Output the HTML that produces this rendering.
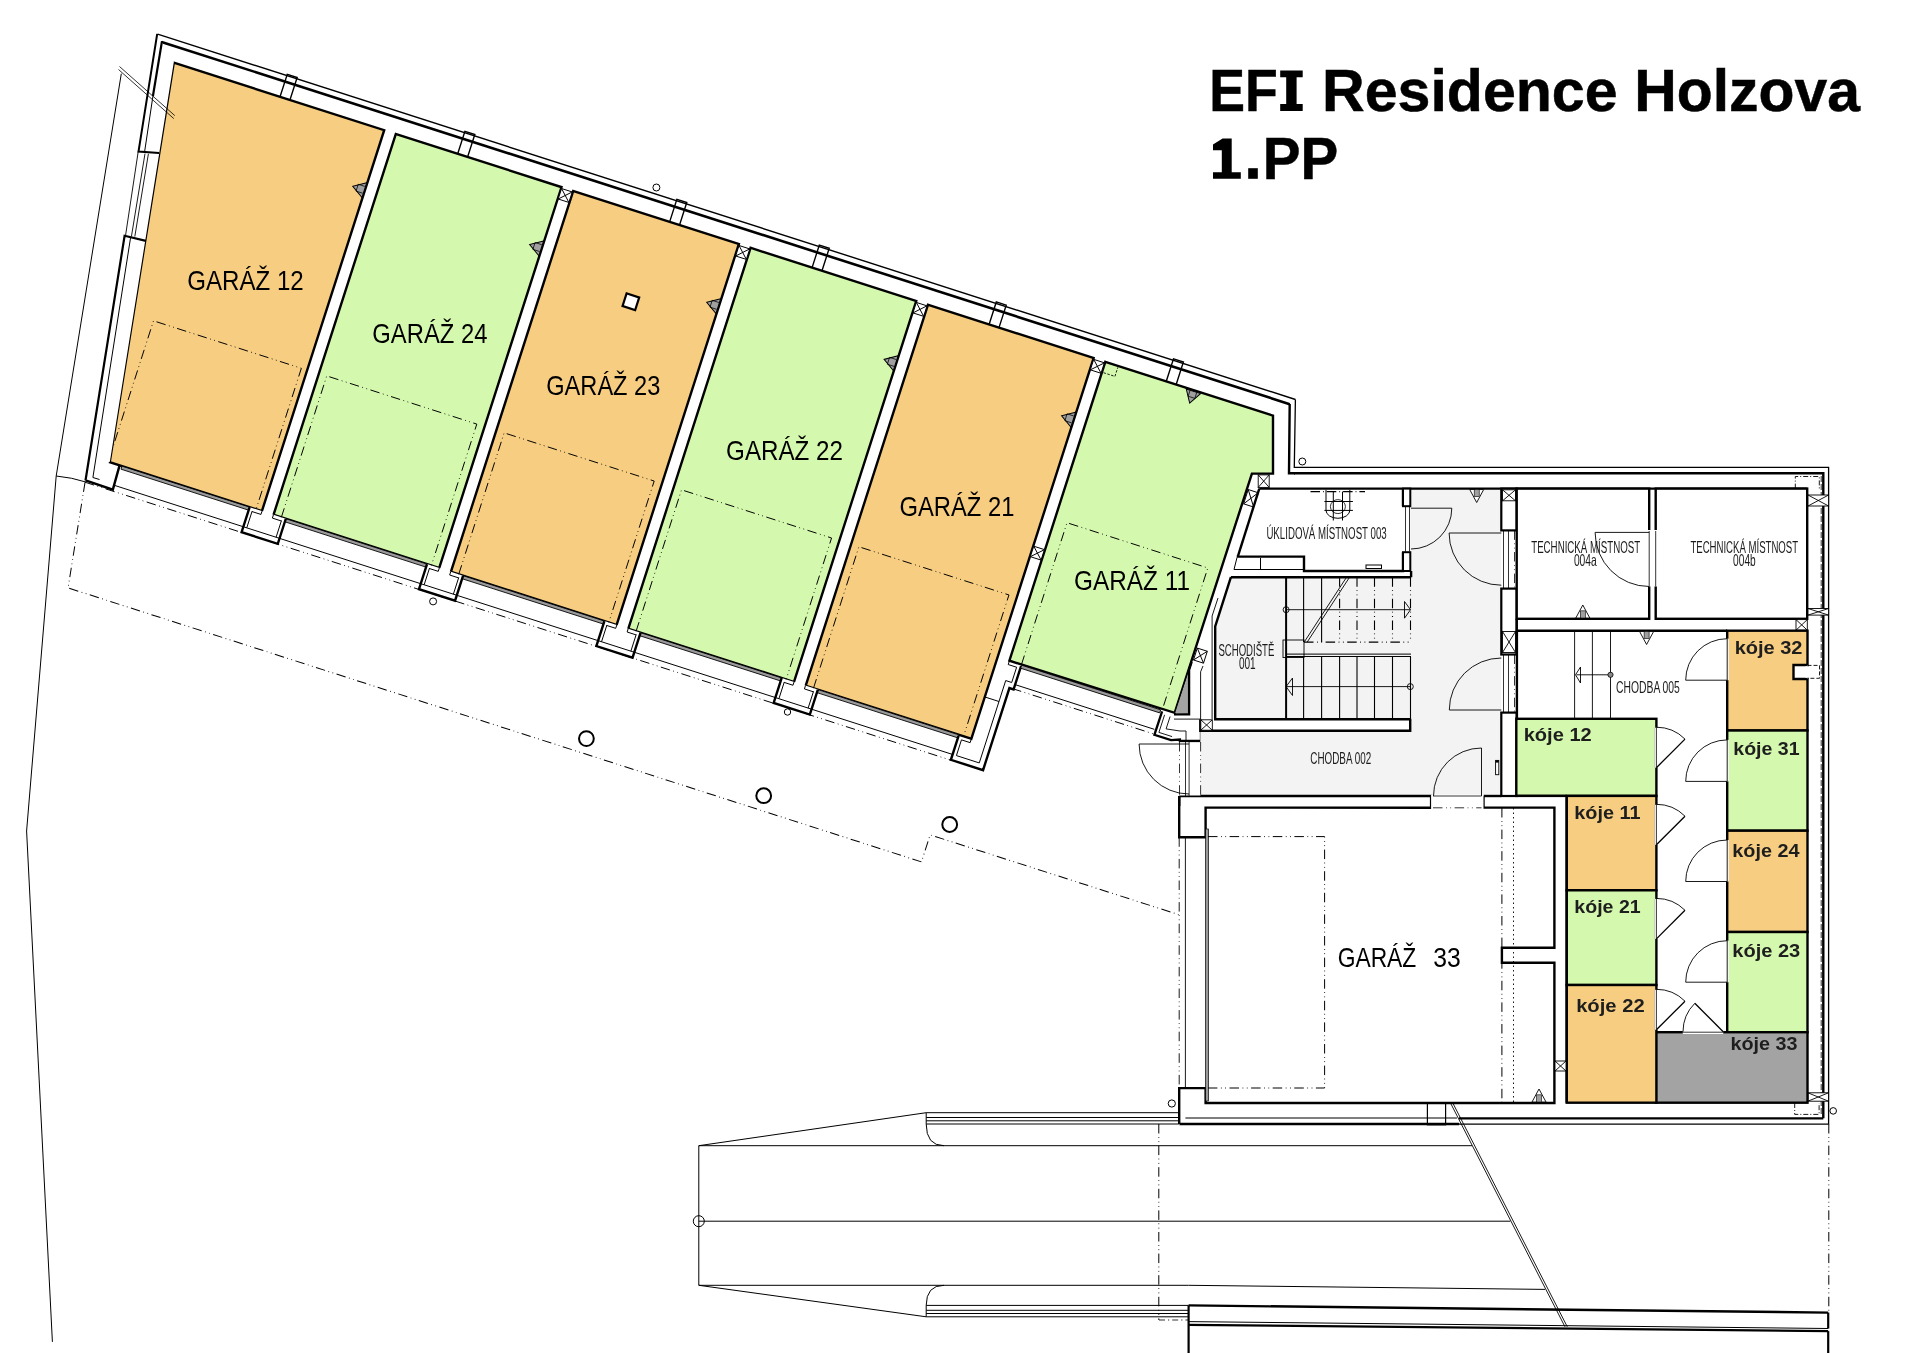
<!DOCTYPE html>
<html><head><meta charset="utf-8"><style>
html,body{margin:0;padding:0;background:#fff;}
svg{display:block;font-family:"Liberation Sans",sans-serif;will-change:transform;}
</style></head><body>
<svg width="1914" height="1353" viewBox="0 0 1914 1353">
<rect width="1914" height="1353" fill="#fff"/>
<polygon points="1105.3,361.8 1273.0,415.6 1273.0,473.6 1251.9,473.6 1174.7,712.8 1009.4,660.7" fill="#d4f8ad" stroke="#000" stroke-width="2.4" stroke-linejoin="miter"/>
<g transform="translate(573.2,190.9) rotate(17.8)">
<polygon points="-419.5,0 -198.5,0 -198.5,400 -358.4,400" fill="#f6cd81" stroke="#000" stroke-width="2.4" stroke-linejoin="miter"/>
<rect x="-186.3" y="0" width="174.0" height="400" fill="#d4f8ad" stroke="#000" stroke-width="2.4"/>
<rect x="0.0" y="0" width="174.0" height="400" fill="#f6cd81" stroke="#000" stroke-width="2.4"/>
<rect x="186.3" y="0" width="174.0" height="400" fill="#d4f8ad" stroke="#000" stroke-width="2.4"/>
<rect x="372.6" y="0" width="174.0" height="400" fill="#f6cd81" stroke="#000" stroke-width="2.4"/>
<rect x="-345.5" y="400.0" width="134.1" height="3.2" fill="#9a9a9a" stroke="#000" stroke-width="0.8"/>
<rect x="-173.4" y="400.0" width="148.2" height="3.2" fill="#9a9a9a" stroke="#000" stroke-width="0.8"/>
<rect x="12.8" y="400.0" width="148.3" height="3.2" fill="#9a9a9a" stroke="#000" stroke-width="0.8"/>
<rect x="199.2" y="400.0" width="148.3" height="3.2" fill="#9a9a9a" stroke="#000" stroke-width="0.8"/>
<rect x="385.4" y="400.0" width="148.1" height="3.2" fill="#9a9a9a" stroke="#000" stroke-width="0.8"/>
<line x1="-437.5" y1="-16" x2="747.4" y2="-16" stroke="#000" stroke-width="2.6"/>
<line x1="-443.6" y1="-22.2" x2="751.4" y2="-22.2" stroke="#000" stroke-width="1.4"/>
<path d="M-307.9,0L-307.9,-23.6L-297.5,-23.6L-297.5,0" fill="none" stroke="#000" stroke-width="1.4"/>
<path d="M-121.3,0L-121.3,-23.6L-110.9,-23.6L-110.9,0" fill="none" stroke="#000" stroke-width="1.4"/>
<path d="M101.3,0L101.3,-23.6L111.7,-23.6L111.7,0" fill="none" stroke="#000" stroke-width="1.4"/>
<path d="M250.9,0L250.9,-23.6L261.3,-23.6L261.3,0" fill="none" stroke="#000" stroke-width="1.4"/>
<path d="M436.8,0L436.8,-23.6L447.2,-23.6L447.2,0" fill="none" stroke="#000" stroke-width="1.4"/>
<path d="M622.9,0L622.9,-23.6L633.3,-23.6L633.3,0" fill="none" stroke="#000" stroke-width="1.4"/>
<rect x="-11.8" y="1.3" width="11.2" height="11.0" fill="#fff" stroke="#000" stroke-width="0.9"/><path d="M-11.8,1.3L-0.6,12.3M-0.6,1.3L-11.8,12.3" stroke="#000" stroke-width="0.9"/>
<rect x="174.6" y="1.3" width="11.2" height="11.0" fill="#fff" stroke="#000" stroke-width="0.9"/><path d="M174.6,1.3L185.8,12.3M185.8,1.3L174.6,12.3" stroke="#000" stroke-width="0.9"/>
<rect x="360.8" y="1.3" width="11.2" height="11.0" fill="#fff" stroke="#000" stroke-width="0.9"/><path d="M360.8,1.3L372.0,12.3M372.0,1.3L360.8,12.3" stroke="#000" stroke-width="0.9"/>
<rect x="547.1" y="1.3" width="11.2" height="11.0" fill="#fff" stroke="#000" stroke-width="0.9"/><path d="M547.1,1.3L558.4,12.3M558.4,1.3L547.1,12.3" stroke="#000" stroke-width="0.9"/>
<rect x="547.1" y="197.5" width="11.2" height="11.0" fill="#fff" stroke="#000" stroke-width="0.9"/><path d="M547.1,197.5L558.4,208.5M558.4,197.5L547.1,208.5" stroke="#000" stroke-width="0.9"/>
<rect x="734.0" y="78.0" width="10.5" height="15.0" fill="#fff" stroke="#000" stroke-width="0.9"/><path d="M734.0,78.0L744.5,93.0M744.5,78.0L734.0,93.0" stroke="#000" stroke-width="0.9"/>
<rect x="734.0" y="244.5" width="10.5" height="12.5" fill="#fff" stroke="#000" stroke-width="0.9"/><path d="M734.0,244.5L744.5,257.0M744.5,244.5L734.0,257.0" stroke="#000" stroke-width="0.9"/>
<path d="M-211.4,400.0L-211.4,426.3L-173.4,426.3L-173.4,400.0" fill="#fff" stroke="#000" stroke-width="2.4"/>
<path d="M-207.8,403.0L-207.8,420.6M-177.0,403.0L-177.0,420.6" stroke="#000" stroke-width="0.9" fill="none"/>
<path d="M-207.8,403.5L-198.4,403.5L-198.4,400.0M-177.0,403.5L-186.4,403.5L-186.4,400.0" stroke="#000" stroke-width="0.9" fill="none"/>
<path d="M-25.1,400.0L-25.1,426.3L12.8,426.3L12.8,400.0" fill="#fff" stroke="#000" stroke-width="2.4"/>
<path d="M-21.5,403.0L-21.5,420.6M9.2,403.0L9.2,420.6" stroke="#000" stroke-width="0.9" fill="none"/>
<path d="M-21.5,403.5L-12.2,403.5L-12.2,400.0M9.2,403.5L-0.2,403.5L-0.2,400.0" stroke="#000" stroke-width="0.9" fill="none"/>
<path d="M161.2,400.0L161.2,426.3L199.2,426.3L199.2,400.0" fill="#fff" stroke="#000" stroke-width="2.4"/>
<path d="M164.8,403.0L164.8,420.6M195.6,403.0L195.6,420.6" stroke="#000" stroke-width="0.9" fill="none"/>
<path d="M164.8,403.5L174.2,403.5L174.2,400.0M195.6,403.5L186.2,403.5L186.2,400.0" stroke="#000" stroke-width="0.9" fill="none"/>
<path d="M347.4,400.0L347.4,426.3L385.4,426.3L385.4,400.0" fill="#fff" stroke="#000" stroke-width="2.4"/>
<path d="M351.1,403.0L351.1,420.6M381.8,403.0L381.8,420.6" stroke="#000" stroke-width="0.9" fill="none"/>
<path d="M351.1,403.5L360.4,403.5L360.4,400.0M381.8,403.5L372.4,403.5L372.4,400.0" stroke="#000" stroke-width="0.9" fill="none"/>
<path d="M-348,400L-347,425.2L-375.8,424.8" fill="none" stroke="#000" stroke-width="2.4"/>
<path d="M533.5,401L533.5,426.2L567.3,426.2L567.3,340L571.7,340L571.7,315.5" fill="none" stroke="#000" stroke-width="2.4"/>
<path d="M537.5,404L537.5,420.5L561.5,420.5L561.5,334L567.8,334L567.8,318M537.5,404L546.6,404L546.6,400M546.6,356L561.5,356" fill="none" stroke="#000" stroke-width="0.9"/>
<path d="M559,314.5L559,318L568,318" fill="none" stroke="#000" stroke-width="0.9"/>
<line x1="-347" y1="420.6" x2="533.5" y2="420.6" stroke="#000" stroke-width="0.9"/>
<line x1="-375.8" y1="426.6" x2="533.5" y2="426.6" stroke="#000" stroke-width="0.9" stroke-dasharray="9.5,3.5,0.8,3.5,0.8,3.5"/>
<path d="M-375.7,426.8L-359.6,532.4L536.7,532.4L536.7,504L798.3,504" fill="none" stroke="#000" stroke-width="1" stroke-dasharray="9.5,3.5,0.8,3.5,0.8,3.5"/>
<path d="M-359.9,400.0L-359.9,252.0L-204.6,252.0L-204.6,400.0" fill="none" stroke="#000" stroke-width="0.9" stroke-dasharray="9.5,3.5,0.8,3.5,0.8,3.5"/>
<path d="M-178.1,400.0L-178.1,251.5L-20.5,251.5L-20.5,400.0" fill="none" stroke="#000" stroke-width="0.9" stroke-dasharray="9.5,3.5,0.8,3.5,0.8,3.5"/>
<path d="M8.2,400.0L8.2,251.5L165.8,251.5L165.8,400.0" fill="none" stroke="#000" stroke-width="0.9" stroke-dasharray="9.5,3.5,0.8,3.5,0.8,3.5"/>
<path d="M194.5,400.0L194.5,251.5L352.1,251.5L352.1,400.0" fill="none" stroke="#000" stroke-width="0.9" stroke-dasharray="9.5,3.5,0.8,3.5,0.8,3.5"/>
<path d="M380.8,400.0L380.8,251.5L538.4,251.5L538.4,400.0" fill="none" stroke="#000" stroke-width="0.9" stroke-dasharray="9.5,3.5,0.8,3.5,0.8,3.5"/>
<path d="M571.6,314.0L571.6,165.0L719.5,165.0L719.5,314.0" fill="none" stroke="#000" stroke-width="0.9" stroke-dasharray="9.5,3.5,0.8,3.5,0.8,3.5"/>
<rect x="572" y="314.5" width="146" height="3.2" fill="#9a9a9a" stroke="#000" stroke-width="0.8"/>
<line x1="571" y1="335" x2="718" y2="335" stroke="#000" stroke-width="0.9"/>
<line x1="570" y1="339.6" x2="720" y2="339.6" stroke="#000" stroke-width="0.9" stroke-dasharray="9.5,3.5,0.8,3.5,0.8,3.5"/>
<polygon points="-199.1,55.3 -211.3,63.0 -199.1,70.8" fill="#a0a0a0" stroke="#000" stroke-width="1.0"/>
<path d="M-206.7,59.4L-206.7,66.6M-206.7,59.4L-199.7,59.4M-206.7,66.6L-199.7,66.6" stroke="#000" stroke-width="0.7"/>
<rect x="82.2" y="81.3" width="13.2" height="13.2" fill="#fff" stroke="#000" stroke-width="2.2"/>
<polygon points="-12.9,56.7 -25.1,64.4 -12.9,72.2" fill="#a0a0a0" stroke="#000" stroke-width="1.0"/>
<path d="M-20.5,60.8L-20.5,68.0M-20.5,60.8L-13.5,60.8M-20.5,68.0L-13.5,68.0" stroke="#000" stroke-width="0.7"/>
<polygon points="173.4,57.6 161.2,65.3 173.4,73.1" fill="#a0a0a0" stroke="#000" stroke-width="1.0"/>
<path d="M165.8,61.7L165.8,68.9M165.8,61.7L172.8,61.7M165.8,68.9L172.8,68.9" stroke="#000" stroke-width="0.7"/>
<polygon points="359.7,57.7 347.5,65.4 359.7,73.2" fill="#a0a0a0" stroke="#000" stroke-width="1.0"/>
<path d="M352.1,61.8L352.1,69.0M352.1,61.8L359.1,61.8M352.1,69.0L359.1,69.0" stroke="#000" stroke-width="0.7"/>
<polygon points="546.0,57.2 533.8,64.9 546.0,72.7" fill="#a0a0a0" stroke="#000" stroke-width="1.0"/>
<path d="M538.4,61.3L538.4,68.5M538.4,61.3L545.4,61.3M538.4,68.5L545.4,68.5" stroke="#000" stroke-width="0.7"/>
<polygon points="644.3,1.2 659.3,1.2 651.8,13.5" fill="#a0a0a0" stroke="#000" stroke-width="1.0"/>
<path d="M648.3,1.2V7.5H655.3V1.2" fill="none" stroke="#000" stroke-width="0.7"/>
<path d="M560.5,11L572.5,11L572.5,1.5" fill="none" stroke="#000" stroke-width="0.8" stroke-dasharray="2.5,1.5"/>
</g>
<polygon points="1189.1,670 1189.1,714 1174.7,712.8" fill="#a3a3a3" stroke="none"/>
<polyline points="1191.7,662 1189.1,670 1189.1,714.3 1174,714.3" fill="none" stroke="#000" stroke-width="2.3"/>
<polyline points="1174.7,712.8 1191.7,660" fill="none" stroke="#000" stroke-width="1.0"/>
<polyline points="1203,666 1200.6,671.8 1200.6,719" fill="none" stroke="#000" stroke-width="0.9"/>
<polyline points="1218,598 1212.1,616 1212.1,719" fill="none" stroke="#000" stroke-width="0.9"/>
<line x1="1174" y1="719.1" x2="1200.6" y2="719.1" stroke="#000" stroke-width="0.9"/>
<polyline points="1162.1,711.3 1154.4,734.8 1171.0,740.1 1179.9,739.5 1179.9,741.0 1201.0,741.0 1201.0,731.0" fill="none" stroke="#000" stroke-width="2.3"/>
<polyline points="1164.6,714.8 1158.9,732.4 1172.1,736.6" fill="none" stroke="#000" stroke-width="0.9"/>
<polyline points="1170.1,716.5 1166.1,728.9 1180.0,731.0 1186.0,731.0 1186.0,740.0" fill="none" stroke="#000" stroke-width="0.9"/>
<polygon points="156.9,33.5 161.2,41.1 173.9,61.5 109.9,461.5 85.5,480.5" fill="#fff" stroke="none"/>
<polyline points="157.2,33.8 138.5,151.6 159.1,153.1" fill="none" stroke="#000" stroke-width="2.0"/>
<polyline points="162,41.1 152.9,96.3" fill="none" stroke="#000" stroke-width="2.2"/>
<polyline points="152.9,96.3 144.7,151.2" fill="none" stroke="#000" stroke-width="1.0"/>
<path d="M138.2,151.6L125.5,235.8M145,153.6L131.4,236.6M148.4,153.8L134.8,236.6" fill="none" stroke="#000" stroke-width="0.9"/>
<polyline points="145.9,240.9 124.6,235.8 85.5,480.5" fill="none" stroke="#000" stroke-width="2.2"/>
<polyline points="130.6,237.5 92.9,477.5 99.5,479.5" fill="none" stroke="#000" stroke-width="1"/>
<path d="M119.5,66.5L174.8,115.6M118.5,69.5L173.8,118.6" stroke="#000" stroke-width="0.8" fill="none"/>
<polyline points="121.3,73.7 56.2,476 26.6,831 52.4,1341.9" fill="none" stroke="#000" stroke-width="1"/>
<path d="M56.2,476Q72,477.5 85.8,482" fill="none" stroke="#000" stroke-width="1"/>
<polyline points="1295.4,399.5 1294.3,467.4 1828.6,467.4 1828.6,1124.2" fill="none" stroke="#000" stroke-width="1.3" stroke-linejoin="miter" />
<polyline points="1289.7,404.1 1289.0,473.2 1295.0,473.2" fill="none" stroke="#000" stroke-width="2.4" stroke-linejoin="miter" />
<polyline points="1294.0,473.2 1823.3,473.2 1823.3,1118.3" fill="none" stroke="#000" stroke-width="2.4" stroke-linejoin="miter" />
<line x1="1821.2" y1="476" x2="1821.2" y2="1116" stroke="#000" stroke-width="0.8" stroke-dasharray="6,2"/>
<line x1="1179.5" y1="1124.0" x2="1459" y2="1124.0" stroke="#000" stroke-width="2.3" />
<line x1="1185.4" y1="1118.0" x2="1457" y2="1118.0" stroke="#000" stroke-width="1.1" stroke="#555"/>
<line x1="1459" y1="1118.3" x2="1823.3" y2="1118.3" stroke="#000" stroke-width="2.3" />
<line x1="1459" y1="1124.2" x2="1828.6" y2="1124.2" stroke="#000" stroke-width="1.2" stroke="#222"/>
<polygon points="1230.9,577.2 1411.1,577.2 1411.1,719.3 1215.2,719.3 1215.2,626.5" fill="#f3f3f3"/>
<polygon points="1410.3,488.6 1501.3,488.6 1501.3,796 1200.3,796 1200.3,730.7 1410.3,730.7" fill="#f3f3f3"/>
<line x1="1259.3" y1="488.6" x2="1807.2" y2="488.6" stroke="#000" stroke-width="2.4" />
<polyline points="1259.3,488.6 1237.8,556.6" fill="none" stroke="#000" stroke-width="2.4" stroke-linejoin="miter" />
<polyline points="1236.8,556.6 1304.0,556.6 1304.0,571.0 1403.0,571.0 1403.0,552.2" fill="none" stroke="#000" stroke-width="2.4" stroke-linejoin="miter" />
<polyline points="1403.0,488.6 1403.0,506.2" fill="none" stroke="#000" stroke-width="2.4" stroke-linejoin="miter" />
<rect x="1403" y="488.6" width="7.3" height="17.6" fill="#fff" stroke="#000" stroke-width="2.0"/>
<rect x="1403" y="552.2" width="7.3" height="18.8" fill="#fff" stroke="#000" stroke-width="2.0"/>
<line x1="1405.5" y1="507" x2="1405.5" y2="551.5" stroke="#000" stroke-width="0.8" />
<line x1="1409.5" y1="507" x2="1409.5" y2="551.5" stroke="#000" stroke-width="0.8" />
<polyline points="1237.0,557.5 1234.0,569.5 1303.0,569.5" fill="none" stroke="#000" stroke-width="1.0" stroke-linejoin="miter" />
<polyline points="1260.5,558.0 1260.5,569.5" fill="none" stroke="#000" stroke-width="1.0" stroke-linejoin="miter" />
<line x1="1230.9" y1="577.2" x2="1411.1" y2="577.2" stroke="#000" stroke-width="2.4" />
<polyline points="1411.1,571.0 1411.1,577.2" fill="none" stroke="#000" stroke-width="2.4" stroke-linejoin="miter" />
<polyline points="1230.9,577.2 1215.2,626.5 1215.2,719.3 1411.1,719.3" fill="none" stroke="#000" stroke-width="2.4" stroke-linejoin="miter" />
<polyline points="1200.3,719.3 1200.3,730.7 1410.2,730.7 1410.2,719.3" fill="none" stroke="#000" stroke-width="2.4" stroke-linejoin="miter" />
<rect x="1200.8" y="719.8" width="11.5" height="10.4" fill="#fff" stroke="#000" stroke-width="0.9"/><path d="M1200.8,719.8L1212.3,730.1999999999999M1212.3,719.8L1200.8,730.1999999999999" stroke="#000" stroke-width="0.9"/>
<line x1="1286.1" y1="577.2" x2="1286.1" y2="719.3" stroke="#000" stroke-width="2.0" />
<line x1="1303.6" y1="656.5" x2="1303.6" y2="719.3" stroke="#000" stroke-width="1.1" />
<line x1="1321.6" y1="656.5" x2="1321.6" y2="719.3" stroke="#000" stroke-width="1.1" />
<line x1="1339.6" y1="656.5" x2="1339.6" y2="719.3" stroke="#000" stroke-width="1.1" />
<line x1="1357" y1="656.5" x2="1357" y2="719.3" stroke="#000" stroke-width="1.1" />
<line x1="1374.5" y1="656.5" x2="1374.5" y2="719.3" stroke="#000" stroke-width="1.1" />
<line x1="1392.5" y1="656.5" x2="1392.5" y2="719.3" stroke="#000" stroke-width="1.1" />
<line x1="1410.5" y1="656.5" x2="1410.5" y2="719.3" stroke="#000" stroke-width="1.1" />
<line x1="1303.6" y1="577.2" x2="1303.6" y2="642.1" stroke="#000" stroke-width="1.1" />
<line x1="1321.6" y1="577.2" x2="1321.6" y2="642.1" stroke="#000" stroke-width="1.1" />
<line x1="1339.6" y1="577.2" x2="1339.6" y2="642.1" stroke="#000" stroke-width="1.1" stroke-dasharray="9.5,3.5,0.8,3.5,0.8,3.5"/>
<line x1="1357" y1="577.2" x2="1357" y2="642.1" stroke="#000" stroke-width="1.1" stroke-dasharray="9.5,3.5,0.8,3.5,0.8,3.5"/>
<line x1="1374.5" y1="577.2" x2="1374.5" y2="642.1" stroke="#000" stroke-width="1.1" stroke-dasharray="9.5,3.5,0.8,3.5,0.8,3.5"/>
<line x1="1392.5" y1="577.2" x2="1392.5" y2="642.1" stroke="#000" stroke-width="1.1" stroke-dasharray="9.5,3.5,0.8,3.5,0.8,3.5"/>
<line x1="1410.5" y1="577.2" x2="1410.5" y2="642.1" stroke="#000" stroke-width="1.1" stroke-dasharray="9.5,3.5,0.8,3.5,0.8,3.5"/>
<line x1="1304" y1="642.1" x2="1411" y2="642.1" stroke="#000" stroke-width="1.1" stroke-dasharray="9.5,3.5,0.8,3.5,0.8,3.5"/>
<line x1="1286.1" y1="654.1" x2="1411" y2="654.1" stroke="#000" stroke-width="1.0" />
<line x1="1286.1" y1="656.5" x2="1411" y2="656.5" stroke="#000" stroke-width="1.0" />
<rect x="1283" y="640" width="21.0" height="17.5" fill="none" stroke="#000" stroke-width="0.9"/>
<path d="M1304.2,642.1L1346.2,577.8M1307.2,642.1L1349.2,577.8" stroke="#000" stroke-width="0.9"/>
<line x1="1286.1" y1="609.7" x2="1410.5" y2="609.7" stroke="#000" stroke-width="0.9" />
<circle cx="1286.1" cy="609.7" r="3" fill="none" stroke="#000" stroke-width="0.9"/>
<path d="M1404.5,601.5L1410.5,609.7L1404.5,618.2Z" fill="none" stroke="#000" stroke-width="0.9"/>
<line x1="1286.1" y1="686.6" x2="1410.5" y2="686.6" stroke="#000" stroke-width="0.9" />
<circle cx="1410.3" cy="686.6" r="3" fill="none" stroke="#000" stroke-width="0.9"/>
<path d="M1292.5,678L1286.1,686.6L1292.5,695.5Z" fill="none" stroke="#000" stroke-width="0.9"/>
<rect x="1501.3" y="488.6" width="15.4" height="41.8" fill="#fff" stroke="#000" stroke-width="2.2"/>
<rect x="1501.3" y="588.6" width="15.4" height="65.9" fill="#fff" stroke="#000" stroke-width="2.2"/>
<rect x="1501.3" y="712.6" width="15.4" height="83.4" fill="#fff" stroke="#000" stroke-width="2.2"/>
<rect x="1502.5" y="489.8" width="13" height="11" fill="#fff" stroke="#000" stroke-width="0.9"/><path d="M1502.5,489.8L1515.5,500.8M1515.5,489.8L1502.5,500.8" stroke="#000" stroke-width="0.9"/>
<rect x="1502.5" y="631.5" width="13" height="21" fill="#fff" stroke="#000" stroke-width="0.9"/><path d="M1502.5,631.5L1515.5,652.5M1515.5,631.5L1502.5,652.5" stroke="#000" stroke-width="0.9"/>
<line x1="1503.5" y1="530.4" x2="1503.5" y2="588.6" stroke="#000" stroke-width="0.8" />
<line x1="1508.5" y1="530.4" x2="1508.5" y2="588.6" stroke="#000" stroke-width="0.8" />
<line x1="1514.5" y1="530.4" x2="1514.5" y2="588.6" stroke="#000" stroke-width="0.8" stroke-dasharray="9.5,3.5,0.8,3.5,0.8,3.5"/>
<line x1="1503.5" y1="654.5" x2="1503.5" y2="712.6" stroke="#000" stroke-width="0.8" />
<line x1="1508.5" y1="654.5" x2="1508.5" y2="712.6" stroke="#000" stroke-width="0.8" />
<line x1="1514.5" y1="654.5" x2="1514.5" y2="712.6" stroke="#000" stroke-width="0.8" stroke-dasharray="9.5,3.5,0.8,3.5,0.8,3.5"/>
<rect x="1516.7" y="488.6" width="132.5" height="130.2" fill="#fff" stroke="#000" stroke-width="2.4"/>
<rect x="1655.7" y="488.6" width="151.5" height="130.2" fill="#fff" stroke="#000" stroke-width="2.4"/>
<rect x="1647.5" y="530" width="9.8" height="56.5" fill="#fff" stroke="none"/>
<line x1="1649.2" y1="531" x2="1649.2" y2="586.5" stroke="#000" stroke-width="0.8" />
<line x1="1655.7" y1="531" x2="1655.7" y2="586.5" stroke="#000" stroke-width="0.8" />
<path d="M1649.2,532.4L1595.1,532.4A54.1,54.1 0 0 0 1649.2,586.5" fill="none" stroke="#000" stroke-width="0.9"/>
<line x1="1516.7" y1="618.8" x2="1516.7" y2="631" stroke="#000" stroke-width="2.4" />
<line x1="1516.9" y1="630.7" x2="1727.2" y2="630.7" stroke="#000" stroke-width="2.4" />
<line x1="1516.9" y1="630.7" x2="1516.9" y2="718.8" stroke="#000" stroke-width="2.4" />
<rect x="1796" y="619.6" width="11.3" height="10.6" fill="#fff" stroke="#000" stroke-width="0.9"/><path d="M1796,619.6L1807.3,630.2M1807.3,619.6L1796,630.2" stroke="#000" stroke-width="0.9"/>
<rect x="1808" y="495" width="20.6" height="11" fill="#fff" stroke="#000" stroke-width="0.9"/><path d="M1808,495L1828.6,506M1828.6,495L1808,506" stroke="#000" stroke-width="0.9"/>
<rect x="1808" y="608.5" width="20.6" height="6.6" fill="#fff" stroke="#000" stroke-width="0.9"/><path d="M1808,608.5L1828.6,615.1M1828.6,608.5L1808,615.1" stroke="#000" stroke-width="0.9"/>
<rect x="1807.9" y="1092.8" width="20.6" height="8.4" fill="#fff" stroke="#000" stroke-width="0.9"/><path d="M1807.9,1092.8L1828.5,1101.2M1828.5,1092.8L1807.9,1101.2" stroke="#000" stroke-width="0.9"/>
<path d="M1795.3,488.6L1795.3,476.5L1819.3,476.5L1819.3,488.6" fill="none" stroke="#000" stroke-width="0.9" stroke-dasharray="5,2,1,2"/>
<path d="M1794.7,1103L1794.7,1114.4L1819.1,1114.4L1819.1,1103" fill="none" stroke="#000" stroke-width="0.9" stroke-dasharray="5,2,1,2"/>
<path d="M1807.5,665.4L1819.5,665.4L1819.5,678.3L1807.5,678.3" fill="none" stroke="#000" stroke-width="0.9" stroke-dasharray="4,2"/>
<rect x="1258.2" y="474.9" width="11" height="12.5" fill="#fff" stroke="#000" stroke-width="0.9"/><path d="M1258.2,474.9L1269.2,487.4M1269.2,474.9L1258.2,487.4" stroke="#000" stroke-width="0.9"/>
<rect x="1727.2" y="630.7" width="80.3" height="99.8" fill="#f6cd81" stroke="#000" stroke-width="2.4"/>
<rect x="1727.2" y="730.5" width="80.3" height="100.2" fill="#d4f8ad" stroke="#000" stroke-width="2.4"/>
<rect x="1727.2" y="830.7" width="80.3" height="101.3" fill="#f6cd81" stroke="#000" stroke-width="2.4"/>
<rect x="1727.2" y="932.0" width="80.3" height="100.2" fill="#d4f8ad" stroke="#000" stroke-width="2.4"/>
<rect x="1655.9" y="1032.2" width="151.6" height="70.5" fill="#a3a3a3" stroke="#000" stroke-width="2.4"/>
<rect x="1516.3" y="718.8" width="140.1" height="77.1" fill="#d4f8ad" stroke="#000" stroke-width="2.4"/>
<rect x="1566.7" y="795.9" width="89.7" height="94.4" fill="#f6cd81" stroke="#000" stroke-width="2.4"/>
<rect x="1566.7" y="890.3" width="89.7" height="94.7" fill="#d4f8ad" stroke="#000" stroke-width="2.4"/>
<rect x="1566.7" y="985.0" width="89.7" height="117.7" fill="#f6cd81" stroke="#000" stroke-width="2.4"/>
<path d="M1807.5,665L1793.5,665L1793.5,679L1807.5,679" fill="#fff" stroke="#000" stroke-width="2.4"/>
<rect x="1805.5" y="666.3" width="4" height="11.4" fill="#fff"/>
<polyline points="1179.2,796.0 1431.1,796.0 1431.1,807.8 1205.6,807.6 1205.6,837.3 1179.2,837.3 1179.2,796.0" fill="none" stroke="#000" stroke-width="2.4" stroke-linejoin="miter" />
<polyline points="1483.5,796.0 1501.3,796.0" fill="none" stroke="#000" stroke-width="2.4" stroke-linejoin="miter" />
<polyline points="1483.5,796.0 1483.5,807.6 1554.4,807.6 1554.4,947.8 1501.9,947.8 1501.9,962.8 1554.4,962.8 1554.4,1103.0 1205.6,1103.0 1205.6,1088.1 1179.2,1088.1 1179.2,1123.9" fill="none" stroke="#000" stroke-width="2.4" stroke-linejoin="miter" />
<polyline points="1516.3,795.9 1566.7,795.9" fill="none" stroke="#000" stroke-width="2.4" stroke-linejoin="miter" />
<line x1="1566.7" y1="795.9" x2="1566.7" y2="1102.7" stroke="#000" stroke-width="2.4" />
<rect x="1205.6" y="829" width="2.8" height="272" fill="#999" stroke="#000" stroke-width="0.7"/>
<line x1="1179.2" y1="837.3" x2="1179.2" y2="1088.1" stroke="#000" stroke-width="0.9" stroke-dasharray="9.5,3.5,0.8,3.5,0.8,3.5"/>
<line x1="1185.4" y1="837.3" x2="1185.4" y2="1088.1" stroke="#000" stroke-width="0.9" />
<path d="M1208,836.6L1324.6,836.6L1324.6,1088L1208,1088" fill="none" stroke="#000" stroke-width="1" stroke-dasharray="9.5,3.5,0.8,3.5,0.8,3.5"/>
<line x1="1501.9" y1="808" x2="1501.9" y2="1103" stroke="#000" stroke-width="1.0" stroke-dasharray="9.5,3.5,0.8,3.5,0.8,3.5"/>
<line x1="1513.5" y1="808" x2="1513.5" y2="1103" stroke="#000" stroke-width="0.9" stroke-dasharray="1.5,3"/>
<rect x="1555" y="1061" width="11" height="10" fill="#fff" stroke="#000" stroke-width="0.9"/><path d="M1555,1061L1566,1071M1566,1061L1555,1071" stroke="#000" stroke-width="0.9"/>
<rect x="1495.6" y="760.4" width="3.2" height="14.3" fill="#fff" stroke="#000" stroke-width="0.9"/><rect x="1495.6" y="760.4" width="3.2" height="2.2" fill="#000"/>
<rect x="1427.4" y="1103.2" width="18.2" height="21.6" fill="none" stroke="#000" stroke-width="1.2"/>
<line x1="1411" y1="508.2" x2="1451.8" y2="508.2" stroke="#000" stroke-width="0.9"/>
<path d="M1451.8,508.2A40.8,40.8 0 0 1 1411.0,549.0" fill="none" stroke="#000" stroke-width="0.9"/>
<line x1="1501.3" y1="533" x2="1449.1" y2="533.0" stroke="#000" stroke-width="0.9"/>
<path d="M1449.1,533.0A52.2,52.2 0 0 0 1501.3,585.2" fill="none" stroke="#000" stroke-width="0.9"/>
<line x1="1501.3" y1="710" x2="1449.3" y2="710.0" stroke="#000" stroke-width="0.9"/>
<path d="M1449.3,710.0A52,52 0 0 1 1501.3,658.0" fill="none" stroke="#000" stroke-width="0.9"/>
<rect x="1431.1" y="794.6" width="52.4" height="14.6" fill="#fff" stroke="none"/>
<line x1="1433" y1="796" x2="1481.5" y2="796" stroke="#000" stroke-width="0.8" />
<line x1="1433" y1="807.8" x2="1481.5" y2="807.8" stroke="#000" stroke-width="0.8" stroke-dasharray="9.5,3.5,0.8,3.5,0.8,3.5"/>
<line x1="1481.5" y1="796" x2="1481.5" y2="748.0" stroke="#000" stroke-width="0.9"/>
<path d="M1481.5,748.0A48,48 0 0 0 1433.5,796.0" fill="none" stroke="#000" stroke-width="0.9"/>
<rect x="1179" y="742.5" width="21.5" height="53" fill="#fff" stroke="none"/>
<line x1="1179.5" y1="742" x2="1179.5" y2="796" stroke="#000" stroke-width="0.8" stroke-dasharray="9.5,3.5,0.8,3.5,0.8,3.5"/>
<line x1="1185.5" y1="742" x2="1185.5" y2="796" stroke="#000" stroke-width="0.8" />
<line x1="1189.1" y1="742" x2="1189.1" y2="796" stroke="#000" stroke-width="0.8" />
<line x1="1200.6" y1="742" x2="1200.6" y2="796" stroke="#000" stroke-width="0.8" stroke-dasharray="9.5,3.5,0.8,3.5,0.8,3.5"/>
<line x1="1189.1" y1="744" x2="1139.1" y2="744.0" stroke="#000" stroke-width="0.9"/>
<path d="M1139.1,744.0A50,50 0 0 0 1189.1,794.0" fill="none" stroke="#000" stroke-width="0.9"/>
<polyline points="1179.2,796.0 1179.2,806.0" fill="none" stroke="#000" stroke-width="2.4" stroke-linejoin="miter" />
<line x1="1656.4" y1="727.7" x2="1656.4" y2="767.7" stroke="#000" stroke-width="3.2" stroke="#fff"/>
<line x1="1656.4" y1="727.7" x2="1656.4" y2="767.7" stroke="#fff" stroke-width="3.4"/>
<line x1="1656.4" y1="727.7" x2="1656.4" y2="767.7" stroke="#000" stroke-width="0.8" />
<line x1="1656.4" y1="767.7" x2="1685.0" y2="739.1" stroke="#000" stroke-width="1.3"/>
<path d="M1656.4,727.2A40.5,40.5 0 0 1 1685.0,739.1" fill="none" stroke="#000" stroke-width="0.9"/>
<line x1="1656.4" y1="804.8" x2="1656.4" y2="844.8" stroke="#000" stroke-width="3.2" stroke="#fff"/>
<line x1="1656.4" y1="804.8" x2="1656.4" y2="844.8" stroke="#fff" stroke-width="3.4"/>
<line x1="1656.4" y1="804.8" x2="1656.4" y2="844.8" stroke="#000" stroke-width="0.8" />
<line x1="1656.4" y1="844.8" x2="1685.0" y2="816.2" stroke="#000" stroke-width="1.3"/>
<path d="M1656.4,804.3A40.5,40.5 0 0 1 1685.0,816.2" fill="none" stroke="#000" stroke-width="0.9"/>
<line x1="1656.4" y1="898.9" x2="1656.4" y2="938.9" stroke="#000" stroke-width="3.2" stroke="#fff"/>
<line x1="1656.4" y1="898.9" x2="1656.4" y2="938.9" stroke="#fff" stroke-width="3.4"/>
<line x1="1656.4" y1="898.9" x2="1656.4" y2="938.9" stroke="#000" stroke-width="0.8" />
<line x1="1656.4" y1="938.9" x2="1685.0" y2="910.3" stroke="#000" stroke-width="1.3"/>
<path d="M1656.4,898.4A40.5,40.5 0 0 1 1685.0,910.3" fill="none" stroke="#000" stroke-width="0.9"/>
<line x1="1656.4" y1="989.8" x2="1656.4" y2="1029.8" stroke="#000" stroke-width="3.2" stroke="#fff"/>
<line x1="1656.4" y1="989.8" x2="1656.4" y2="1029.8" stroke="#fff" stroke-width="3.4"/>
<line x1="1656.4" y1="989.8" x2="1656.4" y2="1029.8" stroke="#000" stroke-width="0.8" />
<line x1="1656.4" y1="1029.8" x2="1685.0" y2="1001.2" stroke="#000" stroke-width="1.3"/>
<path d="M1656.4,989.3A40.5,40.5 0 0 1 1685.0,1001.2" fill="none" stroke="#000" stroke-width="0.9"/>
<line x1="1727.2" y1="638.7" x2="1727.2" y2="680.2" stroke="#fff" stroke-width="3.4"/>
<line x1="1727.2" y1="638.7" x2="1727.2" y2="680.2" stroke="#000" stroke-width="0.9" stroke="#888"/>
<line x1="1727.2" y1="680.2" x2="1685.7" y2="680.2" stroke="#000" stroke-width="0.9"/>
<path d="M1685.7,680.2A41.5,41.5 0 0 1 1727.2,638.7" fill="none" stroke="#000" stroke-width="0.9"/>
<line x1="1727.2" y1="739.9" x2="1727.2" y2="781.4" stroke="#fff" stroke-width="3.4"/>
<line x1="1727.2" y1="739.9" x2="1727.2" y2="781.4" stroke="#000" stroke-width="0.9" stroke="#888"/>
<line x1="1727.2" y1="781.4" x2="1685.7" y2="781.4" stroke="#000" stroke-width="0.9"/>
<path d="M1685.7,781.4A41.5,41.5 0 0 1 1727.2,739.9" fill="none" stroke="#000" stroke-width="0.9"/>
<line x1="1727.2" y1="840.0" x2="1727.2" y2="881.5" stroke="#fff" stroke-width="3.4"/>
<line x1="1727.2" y1="840.0" x2="1727.2" y2="881.5" stroke="#000" stroke-width="0.9" stroke="#888"/>
<line x1="1727.2" y1="881.5" x2="1685.7" y2="881.5" stroke="#000" stroke-width="0.9"/>
<path d="M1685.7,881.5A41.5,41.5 0 0 1 1727.2,840.0" fill="none" stroke="#000" stroke-width="0.9"/>
<line x1="1727.2" y1="940.7" x2="1727.2" y2="982.2" stroke="#fff" stroke-width="3.4"/>
<line x1="1727.2" y1="940.7" x2="1727.2" y2="982.2" stroke="#000" stroke-width="0.9" stroke="#888"/>
<line x1="1727.2" y1="982.2" x2="1685.7" y2="982.2" stroke="#000" stroke-width="0.9"/>
<path d="M1685.7,982.2A41.5,41.5 0 0 1 1727.2,940.7" fill="none" stroke="#000" stroke-width="0.9"/>
<line x1="1682.8" y1="1032.2" x2="1723.2" y2="1032.2" stroke="#fff" stroke-width="3.4"/>
<line x1="1682.8" y1="1032.2" x2="1723.2" y2="1032.2" stroke="#000" stroke-width="0.8" />
<line x1="1723.2" y1="1031.7" x2="1694.8" y2="1003.3" stroke="#000" stroke-width="1.3"/>
<path d="M1683.0,1031.7A40.2,40.2 0 0 1 1694.8,1003.3" fill="none" stroke="#000" stroke-width="0.9"/>
<line x1="1574.6" y1="631.5" x2="1574.6" y2="718" stroke="#000" stroke-width="0.9" />
<line x1="1592.4" y1="631.5" x2="1592.4" y2="718" stroke="#000" stroke-width="0.9" />
<line x1="1610.5" y1="631.5" x2="1610.5" y2="718" stroke="#000" stroke-width="0.9" />
<line x1="1576.4" y1="674.8" x2="1610.5" y2="674.8" stroke="#000" stroke-width="0.9" />
<circle cx="1610.5" cy="674.8" r="2.6" fill="#888" stroke="#000" stroke-width="0.8"/>
<path d="M1580.5,667L1575.5,674.8L1580.5,683Z" fill="none" stroke="#000" stroke-width="0.9"/>
<polygon points="1639.6,631.5 1653.6,631.5 1646.6,644.5" fill="#fff" stroke="#000" stroke-width="0.9"/><rect x="1644.1" y="631.5" width="5" height="7.15" fill="#a0a0a0" stroke="#000" stroke-width="0.6"/>
<polygon points="1469.7,489.5 1483.7,489.5 1476.7,502.5" fill="#fff" stroke="#000" stroke-width="0.9"/><rect x="1474.2" y="489.5" width="5" height="7.15" fill="#a0a0a0" stroke="#000" stroke-width="0.6"/>
<polygon points="1575.8,618 1589.8,618 1582.8,605" fill="#fff" stroke="#000" stroke-width="0.9"/><rect x="1580.3" y="610.85" width="5" height="7.15" fill="#a0a0a0" stroke="#000" stroke-width="0.6"/>
<polygon points="1532.0,1102 1546.0,1102 1539,1089" fill="#fff" stroke="#000" stroke-width="0.9"/><rect x="1536.5" y="1094.85" width="5" height="7.15" fill="#a0a0a0" stroke="#000" stroke-width="0.6"/>
<line x1="1310.5" y1="491.6" x2="1365" y2="491.6" stroke="#000" stroke-width="1.1" stroke-dasharray="9.5,3,0.8,3"/>
<path d="M1326,489.8V510.3M1349.8,489.8V510.3M1333.3,491.6V520.5M1342.5,491.6V520.5M1324.4,501.5H1352.9M1324.4,510.4H1352.9" stroke="#000" stroke-width="1.0" fill="none"/>
<path d="M1326,510.3A11.9,8 0 0 0 1349.8,510.3" stroke="#000" stroke-width="1.0" fill="none"/>
<ellipse cx="1337.9" cy="506.6" rx="7.5" ry="7" stroke="#000" stroke-width="0.8" fill="none"/>
<rect x="1366" y="565" width="15.5" height="3.5" fill="#fff" stroke="#000" stroke-width="1.0"/>
<line x1="698.8" y1="1145.7" x2="698.8" y2="1285.3" stroke="#000" stroke-width="1.0" />
<circle cx="698.8" cy="1221.2" r="5.5" fill="none" stroke="#000" stroke-width="1"/>
<line x1="698.8" y1="1221.2" x2="1510.2" y2="1221.2" stroke="#000" stroke-width="1.0" />
<line x1="698.8" y1="1145.7" x2="926.2" y2="1112.7" stroke="#000" stroke-width="1.0" />
<line x1="926.2" y1="1112.7" x2="1178.9" y2="1112.7" stroke="#000" stroke-width="1.0" />
<line x1="926.2" y1="1117.5" x2="1178.9" y2="1117.5" stroke="#000" stroke-width="1.0" />
<line x1="926.2" y1="1120.8" x2="1178.9" y2="1120.8" stroke="#000" stroke-width="1.0" />
<line x1="926.2" y1="1124.0" x2="1178.9" y2="1124.0" stroke="#000" stroke-width="1.0" />
<line x1="698.8" y1="1145.7" x2="1472" y2="1145.7" stroke="#000" stroke-width="1.0" />
<path d="M926.2,1124Q926.2,1145.7 944,1145.7" fill="none" stroke="#000" stroke-width="1"/>
<line x1="926.2" y1="1112.7" x2="926.2" y2="1124" stroke="#000" stroke-width="1.0" />
<line x1="698.8" y1="1285.3" x2="1188.6" y2="1285.3" stroke="#000" stroke-width="1.0" />
<line x1="1188.6" y1="1285.3" x2="1545" y2="1289.4" stroke="#000" stroke-width="1.0" />
<line x1="698.8" y1="1285.3" x2="926.2" y2="1316.8" stroke="#000" stroke-width="1.0" />
<line x1="926.2" y1="1305.4" x2="1188.6" y2="1305.4" stroke="#000" stroke-width="1.0" />
<line x1="926.2" y1="1310.3" x2="1188.6" y2="1310.3" stroke="#000" stroke-width="1.0" />
<line x1="926.2" y1="1313.5" x2="1188.6" y2="1313.5" stroke="#000" stroke-width="1.0" />
<line x1="926.2" y1="1316.8" x2="1188.6" y2="1316.8" stroke="#000" stroke-width="1.0" />
<line x1="926.2" y1="1305.4" x2="926.2" y2="1316.8" stroke="#000" stroke-width="1.0" />
<path d="M926.2,1305.4Q926.2,1285.3 944,1285.3" fill="none" stroke="#000" stroke-width="1"/>
<line x1="1158.8" y1="1124" x2="1158.8" y2="1320" stroke="#000" stroke-width="1.0" stroke-dasharray="9.5,3.5,0.8,3.5,0.8,3.5"/>
<line x1="1159" y1="1320" x2="1188" y2="1320" stroke="#000" stroke-width="0.8" stroke-dasharray="6,3,1.2,3"/>
<line x1="1188.6" y1="1305.4" x2="1828.2" y2="1312.6" stroke="#000" stroke-width="2.4" />
<line x1="1188.6" y1="1321.6" x2="1828.2" y2="1328.5" stroke="#000" stroke-width="1.0" />
<line x1="1188.6" y1="1324.9" x2="1828.2" y2="1331.1" stroke="#000" stroke-width="2.2" />
<line x1="1188.6" y1="1305.4" x2="1188.6" y2="1353" stroke="#000" stroke-width="2.2" />
<line x1="1828.2" y1="1312.6" x2="1828.2" y2="1328.5" stroke="#000" stroke-width="2.2" />
<line x1="1828.2" y1="1331.1" x2="1828.2" y2="1353" stroke="#000" stroke-width="2.2" />
<line x1="1828.8" y1="1124" x2="1828.8" y2="1312" stroke="#000" stroke-width="1.0" stroke-dasharray="9.5,3.5,0.8,3.5,0.8,3.5"/>
<path d="M1450.6,1103.2L1565,1326.8M1452.9,1103.2L1567.3,1326.8" stroke="#000" stroke-width="0.9"/>
<circle cx="656.4" cy="187.5" r="3.5" fill="none" stroke="#000" stroke-width="1"/>
<circle cx="433.1" cy="601.4" r="3.5" fill="none" stroke="#000" stroke-width="1"/>
<circle cx="1833.2" cy="1110.9" r="3.3" fill="none" stroke="#000" stroke-width="1"/>
<circle cx="1171.8" cy="1103.5" r="3.6" fill="none" stroke="#000" stroke-width="1"/>
<circle cx="1302.3" cy="461.5" r="3.5" fill="none" stroke="#000" stroke-width="1"/>
<circle cx="787.5" cy="712" r="3.2" fill="none" stroke="#000" stroke-width="1"/>
<circle cx="586.4" cy="738.6" r="7.4" fill="none" stroke="#000" stroke-width="2.0"/>
<circle cx="763.7" cy="795.7" r="7.4" fill="none" stroke="#000" stroke-width="2.0"/>
<circle cx="949.7" cy="824.5" r="7.4" fill="none" stroke="#000" stroke-width="2.0"/>
<text x="187.3" y="290.0" font-size="28.3" font-weight="normal" fill="#000" textLength="116.41" lengthAdjust="spacingAndGlyphs">GARÁŽ 12</text>
<text x="372.33" y="342.9" font-size="28.3" font-weight="normal" fill="#000" textLength="115.07" lengthAdjust="spacingAndGlyphs">GARÁŽ 24</text>
<text x="546.25" y="394.8" font-size="28.3" font-weight="normal" fill="#000" textLength="114.09" lengthAdjust="spacingAndGlyphs">GARÁŽ 23</text>
<text x="726.08" y="459.8" font-size="28.3" font-weight="normal" fill="#000" textLength="116.92" lengthAdjust="spacingAndGlyphs">GARÁŽ 22</text>
<text x="899.43" y="515.8" font-size="28.3" font-weight="normal" fill="#000" textLength="115.07" lengthAdjust="spacingAndGlyphs">GARÁŽ 21</text>
<text x="1074.06" y="589.7" font-size="28.3" font-weight="normal" fill="#000" textLength="115.93" lengthAdjust="spacingAndGlyphs">GARÁŽ 11</text>
<text x="1337.64" y="966.8" font-size="28.3" font-weight="normal" fill="#000" textLength="78.68" lengthAdjust="spacingAndGlyphs">GARÁŽ</text>
<text x="1433.32" y="966.8" font-size="28.3" font-weight="normal" fill="#000" textLength="27.47" lengthAdjust="spacingAndGlyphs">33</text>
<text x="1734.69" y="654.0" font-size="18.3" font-weight="bold" fill="#1e1e1e" textLength="67.79" lengthAdjust="spacingAndGlyphs">kóje 32</text>
<text x="1523.67" y="740.9" font-size="18.3" font-weight="bold" fill="#1e1e1e" textLength="68.1" lengthAdjust="spacingAndGlyphs">kóje 12</text>
<text x="1733.27" y="755.0" font-size="18.3" font-weight="bold" fill="#1e1e1e" textLength="66.27" lengthAdjust="spacingAndGlyphs">kóje 31</text>
<text x="1574.31" y="819.4" font-size="18.3" font-weight="bold" fill="#1e1e1e" textLength="66.27" lengthAdjust="spacingAndGlyphs">kóje 11</text>
<text x="1732.32" y="856.6" font-size="18.3" font-weight="bold" fill="#1e1e1e" textLength="67.25" lengthAdjust="spacingAndGlyphs">kóje 24</text>
<text x="1574.37" y="912.7" font-size="18.3" font-weight="bold" fill="#1e1e1e" textLength="66.27" lengthAdjust="spacingAndGlyphs">kóje 21</text>
<text x="1732.28" y="956.5" font-size="18.3" font-weight="bold" fill="#1e1e1e" textLength="67.99" lengthAdjust="spacingAndGlyphs">kóje 23</text>
<text x="1576.15" y="1011.8" font-size="18.3" font-weight="bold" fill="#1e1e1e" textLength="68.51" lengthAdjust="spacingAndGlyphs">kóje 22</text>
<text x="1730.43" y="1050.0" font-size="18.3" font-weight="bold" fill="#1e1e1e" textLength="67.06" lengthAdjust="spacingAndGlyphs">kóje 33</text>
<text x="1266.38" y="538.6" font-size="16.5" font-weight="normal" fill="#1a1a1a" textLength="120.29" lengthAdjust="spacingAndGlyphs">ÚKLIDOVÁ MÍSTNOST 003</text>
<text x="1218.4" y="655.9" font-size="16.5" font-weight="normal" fill="#1a1a1a" textLength="55.94" lengthAdjust="spacingAndGlyphs">SCHODIŠTĚ</text>
<text x="1238.9" y="668.5" font-size="16.5" font-weight="normal" fill="#1a1a1a" textLength="16.79" lengthAdjust="spacingAndGlyphs">001</text>
<text x="1531.2" y="552.9" font-size="16.5" font-weight="normal" fill="#1a1a1a" textLength="109.02" lengthAdjust="spacingAndGlyphs">TECHNICKÁ MÍSTNOST</text>
<text x="1573.9" y="565.8" font-size="16.5" font-weight="normal" fill="#1a1a1a" textLength="22.9" lengthAdjust="spacingAndGlyphs">004a</text>
<text x="1690.4" y="552.9" font-size="16.5" font-weight="normal" fill="#1a1a1a" textLength="107.71" lengthAdjust="spacingAndGlyphs">TECHNICKÁ MÍSTNOST</text>
<text x="1733.1" y="565.8" font-size="16.5" font-weight="normal" fill="#1a1a1a" textLength="22.6" lengthAdjust="spacingAndGlyphs">004b</text>
<text x="1616.0" y="693.2" font-size="16.5" font-weight="normal" fill="#1a1a1a" textLength="63.87" lengthAdjust="spacingAndGlyphs">CHODBA 005</text>
<text x="1310.3" y="763.8" font-size="16.5" font-weight="normal" fill="#1a1a1a" textLength="60.87" lengthAdjust="spacingAndGlyphs">CHODBA 002</text>
<text x="1209.3" y="110.9" font-size="58.6" font-weight="bold" stroke="#000" stroke-width="0.5" lengthAdjust="spacingAndGlyphs" textLength="68.5">EF</text>
<path d="M1280.2,70.4H1302.7V77.2H1296.6V104H1302.7V110.9H1280.2V104H1286.2V77.2H1280.2Z" fill="#000"/>
<text x="1322" y="110.9" font-size="58.6" font-weight="bold" stroke="#000" stroke-width="0.5" lengthAdjust="spacingAndGlyphs" textLength="295.6">Residence</text>
<text x="1634.2" y="110.9" font-size="58.6" font-weight="bold" stroke="#000" stroke-width="0.5" lengthAdjust="spacingAndGlyphs" textLength="225.7">Holzova</text>
<path d="M1213,144.4L1222.6,138.4H1231.7V172.2H1240.8V178.8H1213V172.2H1221.8V150.3H1213Z" fill="#000"/>
<rect x="1248.2" y="168.2" width="9.6" height="10.6" fill="#000"/>
<text x="1262.7" y="178.8" font-size="58.6" font-weight="bold" stroke="#000" stroke-width="0.5" lengthAdjust="spacingAndGlyphs" textLength="75.5">PP</text>
</svg>
</body></html>
